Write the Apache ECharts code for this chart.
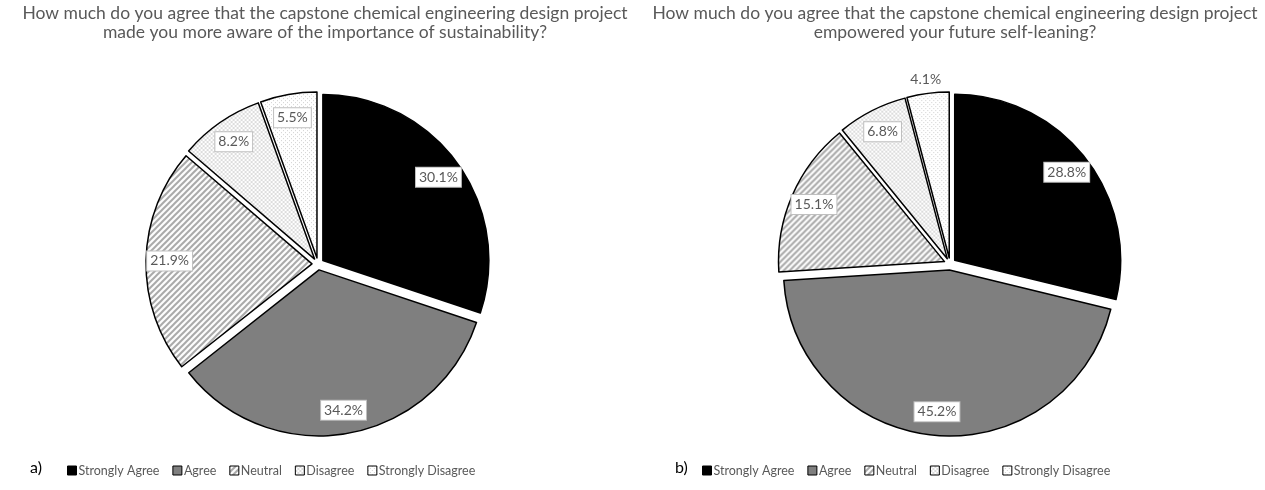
<!DOCTYPE html>
<html>
<head>
<meta charset="utf-8">
<script src="https://cdn.jsdelivr.net/npm/echarts@6/dist/echarts.min.js"></script>
<style>
  html, body { margin: 0; padding: 0; background: #fff; }
  #chart { width: 1265px; height: 490px; }
</style>
</head>
<body>
<div id="chart"></div>
<script>
// categories and survey results (73 respondents, shown as %)
const categories = ['Strongly Agree', 'Agree', 'Neutral', 'Disagree', 'Strongly Disagree'];
const sustainPct = [30.1, 34.2, 21.9, 8.2, 5.5];
const selfLearnPct = [28.8, 45.2, 15.1, 6.8, 4.1];
const titleA = 'How much do you agree that the capstone chemical engineering design project\nmade you more aware of the importance of sustainability?';
const titleB = 'How much do you agree that the capstone chemical engineering design project\nempowered your future self-leaning?';

const FONT = 'Lato, "Open Sans", sans-serif';
const R = 166;

// small canvas patterns, like the Excel fills
function pattern(kind) {
  const c = document.createElement('canvas');
  const s = kind === 'hatch' ? 6 : 4;
  c.width = s; c.height = s;
  const g = c.getContext('2d');
  g.fillStyle = '#fff';
  g.fillRect(0, 0, s, s);
  if (kind === 'hatch') {
    g.strokeStyle = '#a8a8a8';
    g.lineWidth = 2;
    g.beginPath();
    g.moveTo(-1, s + 1); g.lineTo(s + 1, -1);
    g.moveTo(-1, 1); g.lineTo(1, -1);
    g.moveTo(s - 1, s + 1); g.lineTo(s + 1, s - 1);
    g.stroke();
  } else if (kind === 'grid') {
    g.fillStyle = '#dcdcdc';
    g.fillRect(0, 0, 2, 2);
    g.fillRect(2, 2, 2, 2);
  } else {
    g.fillStyle = '#d2d2d2';
    g.fillRect(0, 0, 1, 1);
    g.fillRect(2, 2, 1, 1);
  }
  return { image: c, repeat: 'repeat' };
}

const fills = ['#000000', '#7f7f7f', pattern('hatch'), pattern('grid'), pattern('dots')];

const boxLabel = {
  show: true,
  position: 'inside',
  formatter: p => p.value.toFixed(1) + '%',
  fontFamily: FONT,
  fontSize: 14,
  color: '#595959',
  backgroundColor: '#fff',
  borderColor: '#bfbfbf',
  borderWidth: 1,
  padding: [3, 3, 2, 3]
};

function slices(values) {
  return categories.map((name, i) => ({
    name,
    value: values[i],
    selected: true,
    itemStyle: { color: fills[i] }
  }));
}

function labelRing(values, outsideIdx) {
  return categories.map((name, i) => {
    const item = { name, value: values[i], selected: true };
    if (i === outsideIdx) {
      item.label = { position: 'outside', backgroundColor: 'transparent', borderWidth: 0 };
      item.labelLine = { show: false, length: 6, length2: 0 };
    }
    return item;
  });
}

function pieSeries(values, cx, outsideIdx) {
  return [
    {
      type: 'pie',
      center: [cx, 264],
      radius: [0, R],
      startAngle: 90,
      selectedMode: 'multiple',
      selectedOffset: 6,
      silent: true,
      label: { show: false },
      labelLine: { show: false },
      itemStyle: { borderColor: '#000', borderWidth: 1.5 },
      data: slices(values)
    },
    {
      type: 'pie',
      center: [cx, 264],
      radius: [R * 0.68, R],
      startAngle: 90,
      selectedMode: 'multiple',
      selectedOffset: 6,
      silent: true,
      itemStyle: { color: 'rgba(0,0,0,0)', borderWidth: 0 },
      label: boxLabel,
      labelLine: { show: false },
      labelLayout: p => (p.dataIndex === outsideIdx ? { dx: 22, dy: -8 } : {}),
      data: labelRing(values, outsideIdx)
    }
  ];
}

const titleStyle = { fontFamily: FONT, fontSize: 17.5, fontWeight: 'normal', color: '#595959', lineHeight: 19 };
const legendBase = {
  orient: 'horizontal',
  top: 459,
  icon: 'rect',
  itemWidth: 9,
  itemHeight: 9,
  itemGap: 13,
  selectedMode: false,
  textStyle: { fontFamily: FONT, fontSize: 12.5, color: '#595959', padding: [0, 0, 0, -3] },
  itemStyle: { borderColor: '#000', borderWidth: 1 },
  data: categories
};

const chart = echarts.init(document.getElementById('chart'));
chart.setOption({
  animation: false,
  backgroundColor: '#fff',
  title: [
    { text: titleA, left: 320, top: -1, textAlign: 'center', textStyle: titleStyle },
    { text: titleB, left: 950, top: -1, textAlign: 'center', textStyle: titleStyle },
    { text: 'a)', left: 25, top: 455, textStyle: { fontFamily: FONT, fontSize: 16, fontWeight: 'normal', color: '#000' } },
    { text: 'b)', left: 670, top: 455, textStyle: { fontFamily: FONT, fontSize: 16, fontWeight: 'normal', color: '#000' } }
  ],
  legend: [
    Object.assign({}, legendBase, { left: 62 }),
    Object.assign({}, legendBase, { left: 697 })
  ],
  series: [
    ...pieSeries(sustainPct, 318, -1),
    ...pieSeries(selfLearnPct, 950, 4)
  ]
});
</script>
</body>
</html>
